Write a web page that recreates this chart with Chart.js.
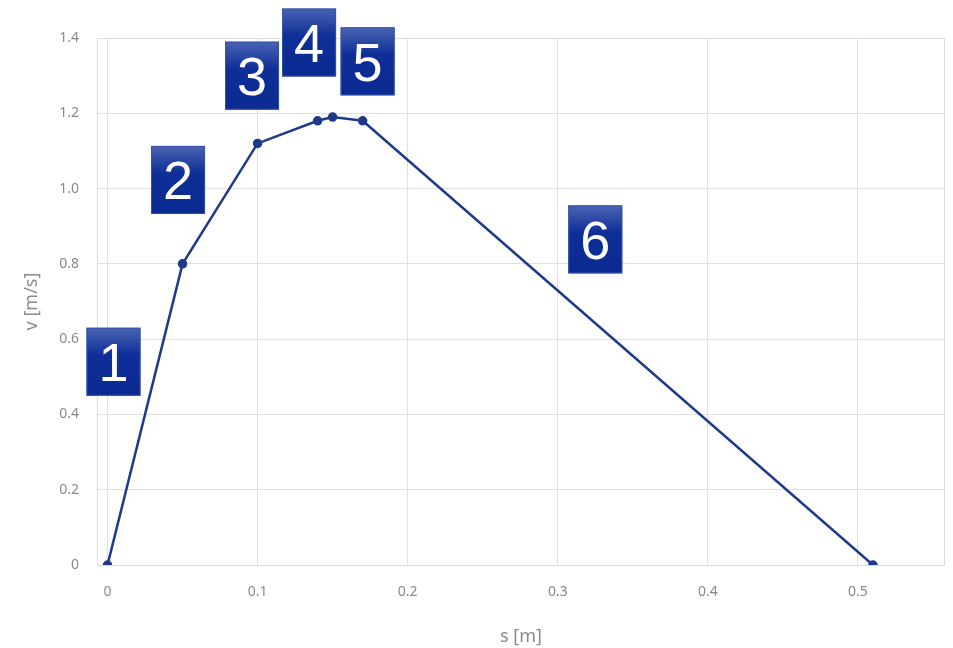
<!DOCTYPE html>
<html>
<head>
<meta charset="utf-8">
<script src="https://cdn.jsdelivr.net/npm/chart.js"></script>
<style>
  html, body { margin: 0; padding: 0; background: #fff; }
  #wrap { width: 953px; height: 648px; position: relative; }
</style>
</head>
<body>
<div id="wrap"><canvas id="chart"></canvas></div>
<script>
// s [m] / v [m/s]
var sValues = [0, 0.05, 0.10, 0.14, 0.15, 0.17, 0.51];
var vValues = [0, 0.80, 1.12, 1.18, 1.19, 1.18, 0];

var xTicks = [0, 0.1, 0.2, 0.3, 0.4, 0.5];
var yTicks = [0, 0.2, 0.4, 0.6, 0.8, 1.0, 1.2, 1.4];

// numbered boxes, centre in data units
var boxLabels = ['1', '2', '3', '4', '5', '6'];
var boxS = [0.004, 0.047, 0.0963, 0.1343, 0.1733, 0.325];
var boxV = [0.54, 1.023, 1.30, 1.388, 1.338, 0.865];

var points = sValues.map(function (s, i) { return {x: s, y: vValues[i]}; });

var frame = {
	id: 'frame',
	beforeDatasetsDraw: function (chart) {
		var a = chart.chartArea, ctx = chart.ctx;
		ctx.save();
		ctx.strokeStyle = '#dcdcdc';
		ctx.lineWidth = 1;
		ctx.strokeRect(Math.round(a.left) + 0.5, Math.round(a.top) + 0.5, Math.round(a.right - a.left) - 1, Math.round(a.bottom - a.top));
		ctx.restore();
	}
};

var boxes = {
	id: 'boxes',
	afterDatasetsDraw: function (chart) {
		var ctx = chart.ctx, xs = chart.scales.x, ys = chart.scales.y;
		var w = 54, h = 68, fs = 54;
		ctx.save();
		for (var i = 0; i < boxLabels.length; i++) {
			var cx = xs.getPixelForValue(boxS[i]);
			var cy = ys.getPixelForValue(boxV[i]);
			var l = cx - w / 2, t = cy - h / 2;
			var g = ctx.createLinearGradient(0, t, 0, t + h);
			g.addColorStop(0, '#4a64b2');
			g.addColorStop(0.4, '#0f2f98');
			g.addColorStop(1, '#0a2991');
			ctx.fillStyle = g;
			ctx.fillRect(l, t, w, h);
			ctx.strokeStyle = '#3452a6';
			ctx.lineWidth = 1;
			ctx.strokeRect(l + 0.5, t + 0.5, w - 1, h - 1);
			ctx.fillStyle = '#ffffff';
			ctx.font = fs + 'px "Liberation Sans", Arial, sans-serif';
			ctx.textAlign = 'center';
			ctx.textBaseline = 'alphabetic';
			ctx.fillText(boxLabels[i], cx, cy + 0.358 * fs);
		}
		ctx.restore();
	}
};

var ctx = document.getElementById('chart');
var myChart = new Chart(ctx, {
	type: 'scatter',
	data: {
		datasets: [{
			label: 'v',
			data: points,
			showLine: true,
			borderColor: '#1e3a8a',
			backgroundColor: '#1e3a8a',
			borderWidth: 2.5,
			pointRadius: 3.5,
			pointHoverRadius: 3.5,
			tension: 0
		}]
	},
	options: {
		responsive: true,
		maintainAspectRatio: false,
		animation: false,
		layout: { padding: { top: 38, right: 8, left: 0, bottom: 0 } },
		plugins: {
			legend: { display: false },
			tooltip: { enabled: false }
		},
		scales: {
			x: {
				type: 'linear',
				min: -0.007,
				max: 0.558,
				afterBuildTicks: function (axis) {
					axis.ticks = xTicks.map(function (v) { return {value: v}; });
				},
				afterFit: function (axis) { axis.height = 83; },
				grid: { color: '#e0e0e0', drawTicks: false },
				border: { display: false },
				ticks: {
					padding: 19,
					color: '#8a8a8a',
					font: { family: '"Noto Sans", sans-serif', size: 14 },
					maxRotation: 0,
					callback: function (v) { return v === 0 ? '0' : String(v); }
				},
				title: {
					display: true,
					text: 's [m]',
					color: '#8a8a8a',
					font: { family: '"Noto Sans", sans-serif', size: 18 },
					padding: { top: 0, bottom: 0 }
				}
			},
			y: {
				min: 0,
				max: 1.4,
				afterBuildTicks: function (axis) {
					axis.ticks = yTicks.map(function (v) { return {value: v}; });
				},
				afterFit: function (axis) { axis.width = 97; },
				grid: { color: '#e0e0e0', drawTicks: false },
				border: { display: false },
				ticks: {
					padding: 18,
					color: '#8a8a8a',
					font: { family: '"Noto Sans", sans-serif', size: 14 },
					callback: function (v) { return v === 0 ? '0' : v.toFixed(1); }
				},
				title: {
					display: true,
					text: 'v [m/s]',
					color: '#8a8a8a',
					font: { family: '"Noto Sans", sans-serif', size: 18 },
					padding: { top: 21, bottom: 0 }
				}
			}
		}
	},
	plugins: [frame, boxes]
});
</script>
</body>
</html>
